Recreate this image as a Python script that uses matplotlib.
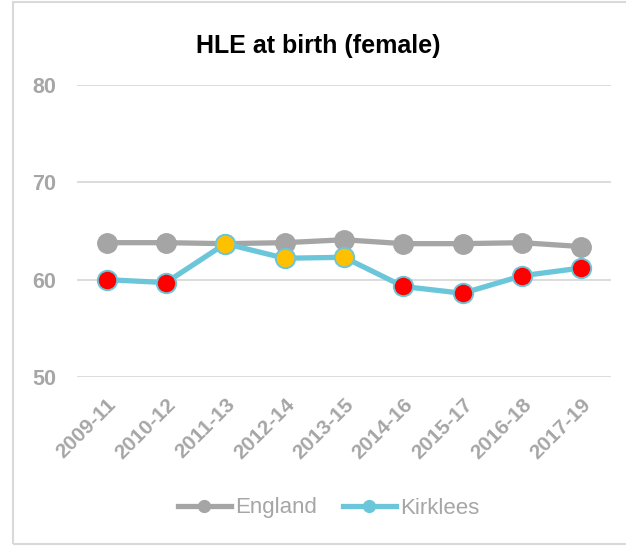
import matplotlib
matplotlib.use("Agg")
import matplotlib.pyplot as plt
from matplotlib.patches import Rectangle
from matplotlib.lines import Line2D

plt.rcParams['font.family'] = ['Liberation Sans', 'DejaVu Sans']

periods = ["2009-11", "2010-12", "2011-13", "2012-14", "2013-15",
           "2014-16", "2015-17", "2016-18", "2017-19"]
england = [63.8, 63.8, 63.7, 63.8, 64.1, 63.7, 63.7, 63.8, 63.4]
kirklees = [60.0, 59.7, 63.7, 62.2, 62.3, 59.3, 58.6, 60.4, 61.2]
# comparison with England: worse / similar
kirklees_status = ["worse", "worse", "similar", "similar", "similar",
                   "worse", "worse", "worse", "worse"]
y_ticks = [50, 60, 70, 80]

status_colors = {"worse": "#FF0000", "similar": "#FFC000"}
grey = "#A5A5A5"
cyan = "#6CC6D9"
label_grey = "#A6A6A6"

fig = plt.figure(figsize=(6.26, 5.46), dpi=100)
# chart-area frame (right edge runs off the canvas)
fig.patches.append(Rectangle((13 / 626, 2 / 546), 640 / 626, 542 / 546,
                             transform=fig.transFigure, fill=False,
                             edgecolor="#D9D9D9", linewidth=1.5))

ax = fig.add_axes([77 / 626, 1 - 377 / 546, 534 / 626, 292 / 546])
x = list(range(len(periods)))

ax.plot(x, england, color=grey, linewidth=3.8, marker="o", markersize=14,
        markerfacecolor=grey, markeredgecolor=grey, zorder=3)
ax.plot(x, kirklees, color=cyan, linewidth=3.8, zorder=4)
for xi, yi, st in zip(x, kirklees, kirklees_status):
    ax.plot(xi, yi, marker="o", markersize=14, markerfacecolor=status_colors[st],
            markeredgecolor=cyan, markeredgewidth=1.4, zorder=5)

ax.set_xlim(-0.5, len(periods) - 0.5)
ax.set_ylim(50, 80)
ax.set_yticks(y_ticks)
ax.grid(axis="y", color="#D9D9D9", linewidth=1.3)
ax.set_axisbelow(True)
for s in ax.spines.values():
    s.set_visible(False)
ax.tick_params(axis="both", length=0)
ax.tick_params(axis="y", pad=15)
ax.tick_params(axis="x", pad=13)
ax.set_xticks(x)
ax.set_xticklabels(periods, rotation=45, ha="right", rotation_mode="anchor",
                   fontsize=15, fontweight="bold", color=label_grey)
for lab in ax.get_yticklabels():
    lab.set_fontsize(15.5)
    lab.set_fontweight("bold")
    lab.set_color(label_grey)

fig.text(0.508, 1 - 46 / 546, "HLE at birth (female)", ha="center", va="center",
         fontsize=18, fontweight="bold", color="black")

handles = [
    Line2D([], [], color=grey, linewidth=3.8, marker="o", markersize=8.5,
           markerfacecolor=grey, markeredgecolor=grey),
    Line2D([], [], color=cyan, linewidth=3.8, marker="o", markersize=8.5,
           markerfacecolor=cyan, markeredgecolor=cyan),
]
leg = fig.legend(handles, ["England", "Kirklees"], loc="center",
                 bbox_to_anchor=(0.525, 1 - 508 / 546), ncol=2,
                 frameon=False, fontsize=16, handlelength=2.4,
                 handletextpad=0.2, columnspacing=1.15)
for t in leg.get_texts():
    t.set_color(label_grey)

fig.savefig("out.png", dpi=100, facecolor="white")
